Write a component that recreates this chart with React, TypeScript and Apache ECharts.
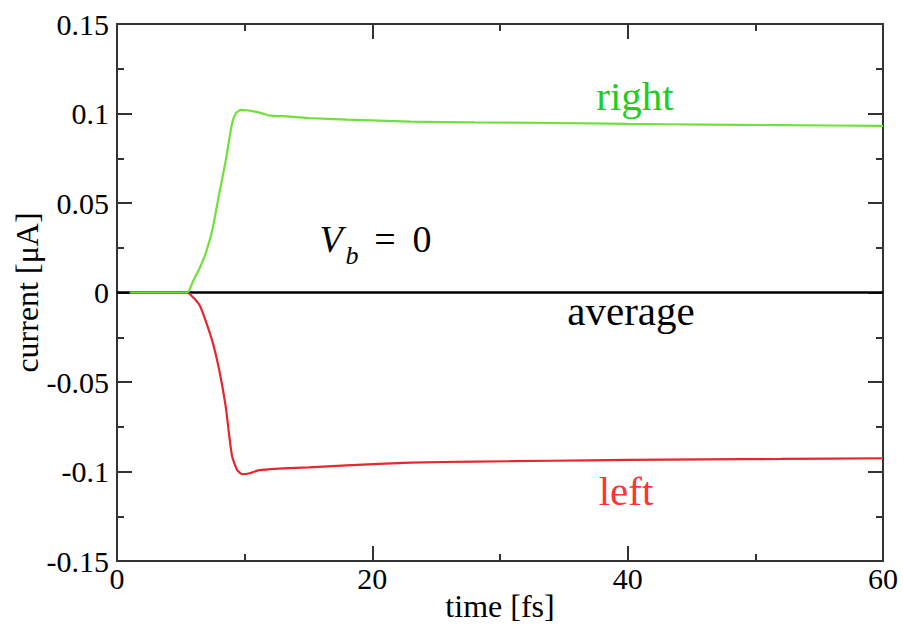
import React, { useEffect, useRef } from "react";
import * as echarts from "echarts";

// time [fs]
const rightTime = [1, 2, 3, 4, 5, 5.5, 6, 6.5, 7, 7.5, 8, 8.5, 9, 9.3, 9.7, 10.2, 10.7, 11.3, 12, 13, 15, 18, 23, 28, 34, 40, 46, 52, 60];
// current [μA], right lead
const rightCurrent = [0, 0, 0, 0, 0, 0, 0.007, 0.014, 0.023, 0.036, 0.055, 0.073, 0.094, 0.1, 0.102, 0.1018, 0.1012, 0.1002, 0.0988, 0.0985, 0.0975, 0.0966, 0.0955, 0.095, 0.0947, 0.0942, 0.0938, 0.0935, 0.0931];

const leftTime = [1, 2, 3, 4, 5, 5.5, 6, 6.5, 7, 7.5, 8, 8.5, 9, 9.4, 9.8, 10.4, 11, 12, 13, 15, 18, 23, 28, 34, 40, 46, 52, 60];
// current [μA], left lead
const leftCurrent = [0, 0, 0, 0, 0, 0, -0.003, -0.0076, -0.017, -0.028, -0.043, -0.063, -0.091, -0.099, -0.1015, -0.101, -0.0995, -0.0987, -0.0983, -0.0977, -0.0966, -0.095, -0.0945, -0.094, -0.0935, -0.0932, -0.093, -0.0926];

const averageTime = [0, 60];
const averageCurrent = [0, 0];

const xTicks = { min: 0, max: 60, interval: 20 };
const yTicks = { min: -0.15, max: 0.15, interval: 0.05 };

const seriesLabels = { right: "right", average: "average", left: "left" };

const FONT = "Liberation Serif";
const AXIS_COLOR = "#333333";

function zip(a: number[], b: number[]) {
  return a.map((v, i) => [v, b[i]]);
}

export default function App() {
  const ref = useRef<HTMLDivElement>(null);

  useEffect(() => {
    if (!ref.current) return;
    const chart = echarts.init(ref.current, undefined, { renderer: "svg" });

    const axisCommon = {
      axisLine: { show: true, onZero: false, lineStyle: { color: AXIS_COLOR, width: 2 } },
      axisTick: { show: true, inside: true, length: 15, lineStyle: { color: AXIS_COLOR, width: 2 } },
      minorTick: { show: true, splitNumber: 2, length: 7, lineStyle: { color: AXIS_COLOR, width: 2 } },
      splitLine: { show: false },
      minorSplitLine: { show: false },
    };

    chart.setOption({
      animation: false,
      backgroundColor: "#ffffff",
      textStyle: { fontFamily: FONT },
      grid: { left: 117, right: 20, top: 24, bottom: 67, containLabel: false, outerBoundsMode: "none" },
      xAxis: [
        {
          type: "value",
          ...xTicks,
          ...axisCommon,
          name: "time [fs]",
          nameLocation: "middle",
          nameGap: 29,
          nameMoveOverlap: false,
          nameTextStyle: { fontFamily: FONT, fontSize: 32, color: "#000" },
          axisLabel: { fontFamily: FONT, fontSize: 30, color: "#000", margin: 2 },
        },
        {
          type: "value",
          position: "top",
          ...xTicks,
          ...axisCommon,
          axisLabel: { show: false },
        },
      ],
      yAxis: [
        {
          type: "value",
          ...yTicks,
          ...axisCommon,
          name: "current [μA]",
          nameLocation: "middle",
          nameGap: 74,
          nameMoveOverlap: false,
          nameTextStyle: { fontFamily: FONT, fontSize: 32, color: "#000" },
          axisLabel: {
            fontFamily: FONT,
            fontSize: 30,
            color: "#000",
            margin: 8,
            formatter: (v: number) => String(+v.toFixed(2)),
          },
        },
        {
          type: "value",
          position: "right",
          ...yTicks,
          ...axisCommon,
          axisLabel: { show: false },
        },
      ],
      series: [
        {
          type: "line",
          name: seriesLabels.average,
          data: zip(averageTime, averageCurrent),
          showSymbol: false,
          lineStyle: { color: "#000000", width: 2.5 },
          z: 2,
        },
        {
          type: "line",
          name: seriesLabels.left,
          data: zip(leftTime, leftCurrent),
          showSymbol: false,
          smooth: 0.2,
          lineStyle: { color: "#e8262e", width: 2.2 },
          z: 3,
        },
        {
          type: "line",
          name: seriesLabels.right,
          data: zip(rightTime, rightCurrent),
          showSymbol: false,
          smooth: 0.2,
          lineStyle: { color: "#70e03a", width: 2.2 },
          z: 4,
        },
      ],
      graphic: [
        {
          type: "text",
          x: 635,
          y: 96,
          style: { text: seriesLabels.right, font: `41px ${FONT}`, fill: "#22cc22", align: "center", verticalAlign: "middle" },
        },
        {
          type: "text",
          x: 631,
          y: 311,
          style: { text: seriesLabels.average, font: `41px ${FONT}`, fill: "#000000", align: "center", verticalAlign: "middle" },
        },
        {
          type: "text",
          x: 626,
          y: 491,
          style: { text: seriesLabels.left, font: `41px ${FONT}`, fill: "#ff3333", align: "center", verticalAlign: "middle" },
        },
        {
          type: "text",
          x: 331,
          y: 239,
          style: { text: "V", font: `italic 38px ${FONT}`, fill: "#000", align: "center", verticalAlign: "middle" },
        },
        {
          type: "text",
          x: 352,
          y: 255,
          style: { text: "b", font: `italic 26px ${FONT}`, fill: "#000", align: "center", verticalAlign: "middle" },
        },
        {
          type: "text",
          x: 385,
          y: 239,
          style: { text: "=", font: `38px ${FONT}`, fill: "#000", align: "center", verticalAlign: "middle" },
        },
        {
          type: "text",
          x: 422,
          y: 239,
          style: { text: "0", font: `38px ${FONT}`, fill: "#000", align: "center", verticalAlign: "middle" },
        },
      ],
    });

    return () => chart.dispose();
  }, []);

  return (
    <div
      ref={ref}
      style={{ position: "absolute", left: 0, top: 0, width: 903, height: 628 }}
    />
  );
}
